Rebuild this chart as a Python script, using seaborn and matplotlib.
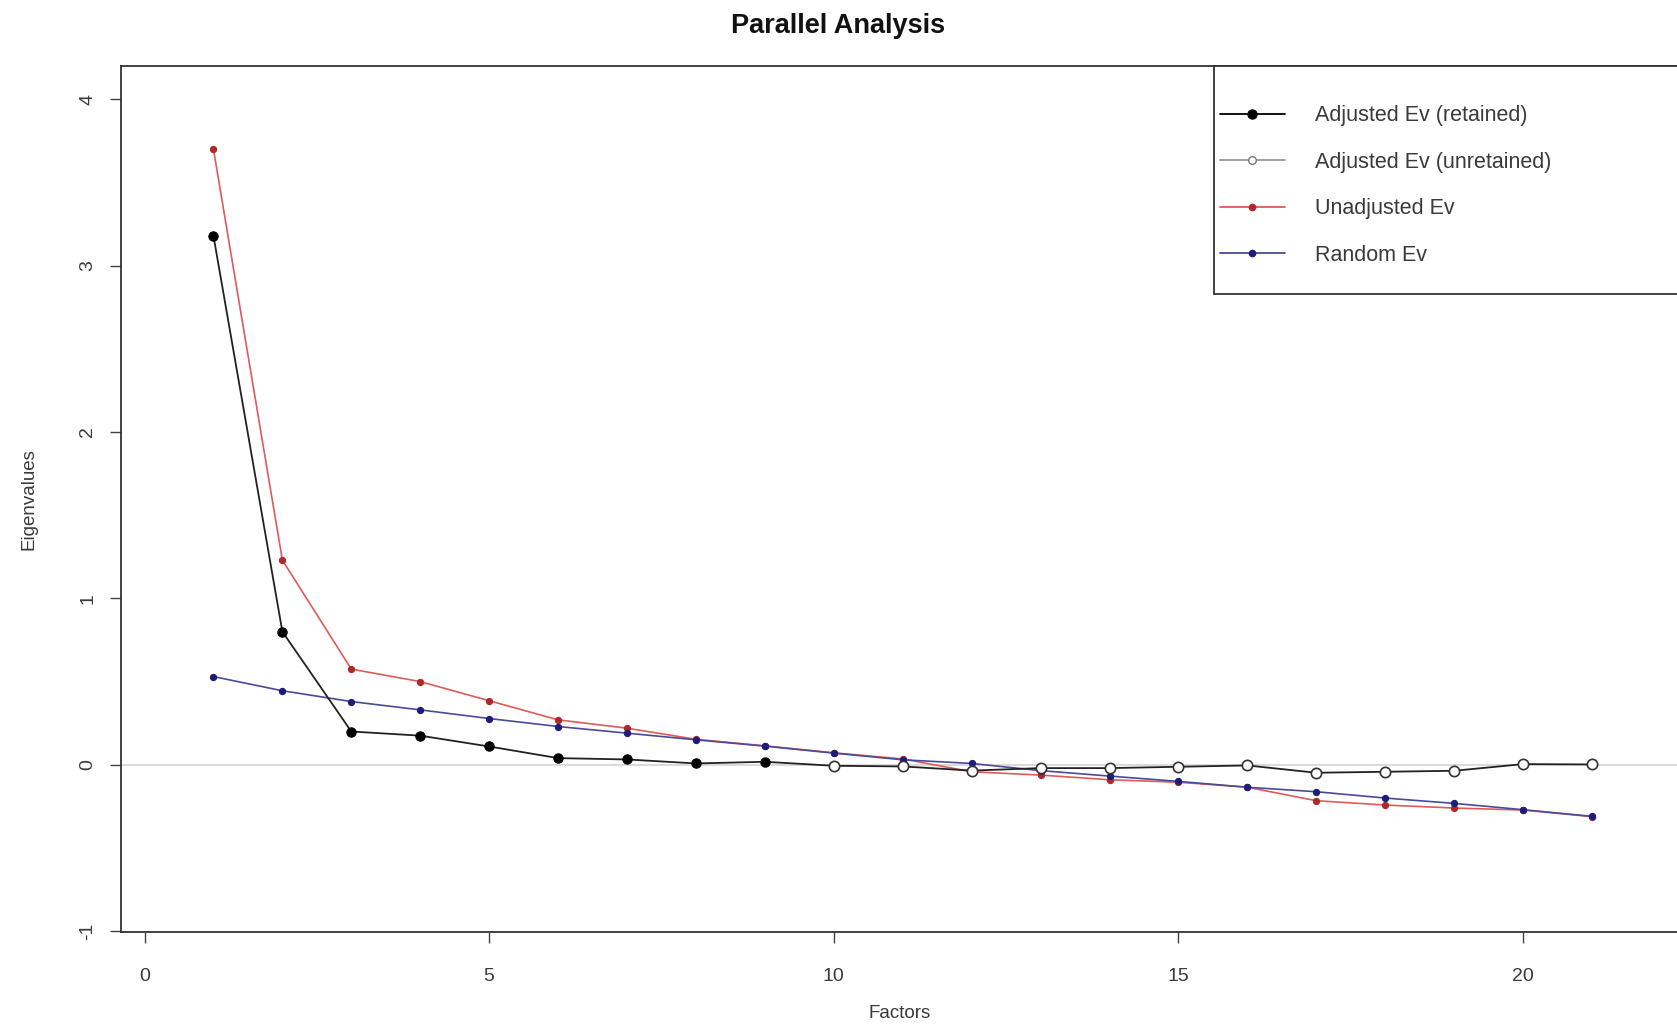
import numpy as np
import pandas as pd
import matplotlib
matplotlib.use("Agg")
import matplotlib.pyplot as plt
import seaborn as sns
from matplotlib.lines import Line2D
from matplotlib.patches import Rectangle

# ---- data ----
factors = list(range(1, 22))
adjusted_ev = [3.18, 0.80, 0.20, 0.175, 0.11, 0.04, 0.032, 0.008, 0.018, -0.006,
               -0.01, -0.035, -0.02, -0.02, -0.012, -0.004, -0.048, -0.042, -0.036,
               0.004, 0.002]
unadjusted_ev = [3.70, 1.23, 0.575, 0.50, 0.385, 0.27, 0.22, 0.153, 0.114, 0.072,
                 0.035, -0.042, -0.062, -0.09, -0.105, -0.135, -0.216, -0.242,
                 -0.26, -0.272, -0.312]
random_ev = [0.53, 0.445, 0.38, 0.33, 0.278, 0.23, 0.19, 0.15, 0.112, 0.07,
             0.03, 0.008, -0.035, -0.068, -0.10, -0.135, -0.162, -0.2, -0.232,
             -0.27, -0.31]
n_retained = 9
legend_labels = ["Adjusted Ev (retained)", "Adjusted Ev (unretained)",
                 "Unadjusted Ev", "Random Ev"]
y_ticks = [-1, 0, 1, 2, 3, 4]
x_ticks = [0, 5, 10, 15, 20]

df = pd.DataFrame({"Factor": factors, "Adjusted": adjusted_ev,
                   "Unadjusted": unadjusted_ev, "Random": random_ev})
df["Retained"] = df["Factor"] <= n_retained

sns.set_theme(style="white")
plt.rcParams["font.family"] = ["Liberation Sans", "DejaVu Sans"]

fig = plt.figure(figsize=(16.77, 10.28), dpi=100)
ax = fig.add_axes([0.0722, 0.0934, 0.9285, 0.8424])

text_col = "#3a3a3a"
red_line, red_pt = "#e05a5a", "#b02828"
blue_line, blue_pt = "#4a4a9a", "#1c1c7a"

ax.axhline(0, color="#d4d4d4", lw=1.2, zorder=1)

sns.lineplot(data=df, x="Factor", y="Unadjusted", ax=ax, color=red_line, lw=1.2,
             marker="o", markersize=4.5, markerfacecolor=red_pt,
             markeredgecolor=red_pt, zorder=3)
sns.lineplot(data=df, x="Factor", y="Random", ax=ax, color=blue_line, lw=1.2,
             marker="o", markersize=4.5, markerfacecolor=blue_pt,
             markeredgecolor=blue_pt, zorder=3)
sns.lineplot(data=df, x="Factor", y="Adjusted", ax=ax, color="#222222", lw=1.3,
             zorder=4)
sns.scatterplot(data=df[df["Retained"]], x="Factor", y="Adjusted", ax=ax,
                color="black", s=45, edgecolor="black", linewidth=0.8, zorder=5)
sns.scatterplot(data=df[~df["Retained"]], x="Factor", y="Adjusted", ax=ax,
                color="white", s=55, edgecolor="#333333", linewidth=1.2, zorder=5)

ax.set_xlim(-0.34, 22.25)
ax.set_ylim(-1.005, 4.2)
ax.set_xticks(x_ticks)
ax.set_yticks(y_ticks)
ax.set_yticklabels([str(v) for v in y_ticks], rotation=90, va="center")
ax.tick_params(axis="both", direction="out", length=8, width=1, colors="#444444",
               labelcolor=text_col, labelsize=14, left=True, bottom=True)
ax.tick_params(axis="y", pad=10)
ax.tick_params(axis="x", pad=18)

for s in ax.spines.values():
    s.set_visible(True)
    s.set_color("#333333")
    s.set_linewidth(1.3)

ax.set_xlabel("Factors", fontsize=13.5, color=text_col, labelpad=14)
ax.set_ylabel("Eigenvalues", fontsize=13.5, color=text_col, labelpad=30)
fig.suptitle("Parallel Analysis", fontsize=19.5, fontweight="bold",
             color="#111111", y=0.987)

# legend box (R-style, square corners, flush with the plot top)
ax.add_patch(Rectangle((0.7017, 0.7367), 0.31, 0.2633, transform=ax.transAxes,
                       facecolor="white", edgecolor="#333333", lw=1.3,
                       clip_on=False, zorder=6))

handles = [
    Line2D([], [], color="black", lw=1.3, marker="o", markersize=6.5,
           markerfacecolor="black", markeredgecolor="black"),
    Line2D([], [], color="#9a9a9a", lw=1.3, marker="o", markersize=5.5,
           markerfacecolor="white", markeredgecolor="#777777"),
    Line2D([], [], color=red_line, lw=1.3, marker="o", markersize=4.5,
           markerfacecolor=red_pt, markeredgecolor=red_pt),
    Line2D([], [], color=blue_line, lw=1.3, marker="o", markersize=4.5,
           markerfacecolor=blue_pt, markeredgecolor=blue_pt),
]
leg = ax.legend(handles, legend_labels, loc="center left",
                bbox_to_anchor=(0.7058, 0.862), fontsize=15.5, frameon=False,
                borderpad=0.0, labelspacing=1.18, handlelength=3.0,
                handletextpad=1.4, borderaxespad=0.0)
leg.set_zorder(7)
for t in leg.get_texts():
    t.set_color(text_col)

fig.savefig("out.png", dpi=100)
